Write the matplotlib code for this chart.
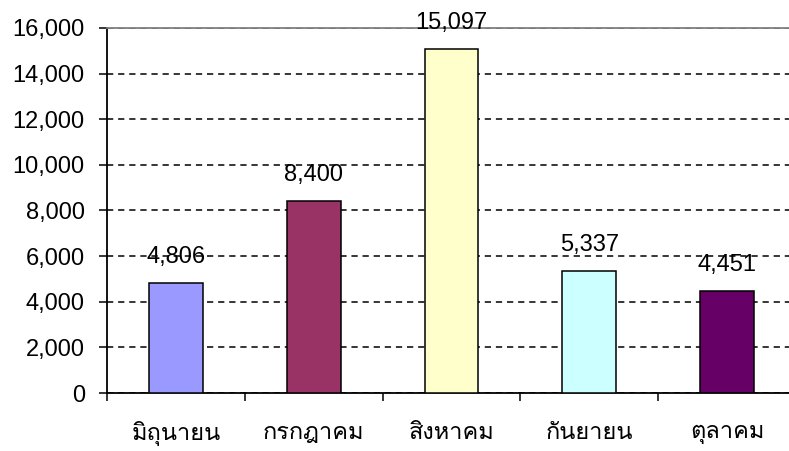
import matplotlib
matplotlib.use("Agg")
import matplotlib.pyplot as plt
from matplotlib import font_manager
from matplotlib.ft2font import FT2Font
from matplotlib.ticker import FuncFormatter, MultipleLocator

months = ["มิถุนายน", "กรกฎาคม", "สิงหาคม", "กันยายน", "ตุลาคม"]
values = [4806, 8400, 15097, 5337, 4451]
colors = ["#9999FF", "#993366", "#FFFFCC", "#CCFFFF", "#660066"]

# find a font that has Thai glyphs
thai_font = None
for fe in font_manager.fontManager.ttflist:
    try:
        cmap = FT2Font(fe.fname).get_charmap()
        if 0x0E21 in cmap and 0x0E01 in cmap:
            thai_font = fe.name
            break
    except Exception:
        continue
thai_family = [thai_font, "Liberation Sans", "DejaVu Sans"] if thai_font else ["Liberation Sans", "DejaVu Sans"]

plt.rcParams["font.family"] = ["Liberation Sans", "DejaVu Sans"]
plt.rcParams["lines.scale_dashes"] = False

fig = plt.figure(figsize=(7.89, 4.51), dpi=100)
W, H = 789, 451
left, right, top, bottom = 107, 796, 28, 393
ax = fig.add_axes([left / W, 1 - bottom / H, (right - left) / W, (bottom - top) / H])

x = list(range(len(months)))
ax.bar(x, values, width=0.39, color=colors, edgecolor="black", linewidth=1.1, zorder=3)

ax.set_xlim(-0.5, len(months) - 0.5)
ax.set_ylim(0, 16000)
ax.yaxis.set_major_locator(MultipleLocator(2000))
ax.yaxis.set_major_formatter(FuncFormatter(lambda v, p: f"{int(v):,}"))

ax.yaxis.grid(True, color="black", linestyle=(0, (4.5, 3.5)), linewidth=1.1, zorder=1)
ax.set_axisbelow(True)

ax.set_xticks(x)
ax.set_xticklabels(months, fontsize=17, family=thai_family)
ax.set_xticks([i - 0.5 for i in range(len(months) + 1)], minor=True)
ax.tick_params(axis="x", which="major", length=0, pad=20)
ax.tick_params(axis="x", which="minor", length=6, width=1.1, direction="out")
ax.tick_params(axis="y", length=6, width=1.1, direction="out", pad=10, labelsize=17)

for s in ["left", "bottom"]:
    ax.spines[s].set_color("black")
    ax.spines[s].set_linewidth(1.3)
ax.spines["top"].set_color("#808080")
ax.spines["top"].set_linewidth(1.3)
ax.spines["right"].set_visible(False)

for xi, v in zip(x, values):
    ax.annotate(f"{v:,}", (xi, v), xytext=(0, 14.4), textcoords="offset points",
                ha="center", va="baseline", fontsize=17, color="black", zorder=4)

fig.savefig("out.png", dpi=100)
